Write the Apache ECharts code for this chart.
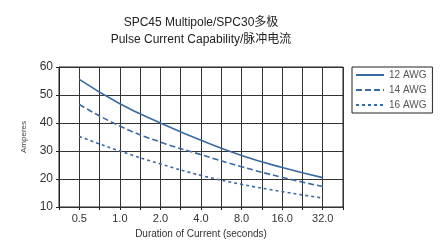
<!DOCTYPE html>
<html>
<head>
<meta charset="utf-8">
<script src="https://cdn.jsdelivr.net/npm/echarts@6/dist/echarts.min.js"></script>
<style>
  html, body { margin: 0; padding: 0; background: #fff; }
  #main { width: 441px; height: 244px; }
</style>
</head>
<body>
<div id="main"></div>
<script>
// durations (seconds) shown under the x axis
var durations = ['0.5', '1.0', '2.0', '4.0', '8.0', '16.0', '32.0'];
var awg12 = [55.6, 46.9, 40.0, 33.8, 28.4, 24.1, 20.5];
var awg14 = [46.6, 38.9, 33.2, 28.7, 24.4, 20.6, 17.3];
var awg16 = [35.2, 30.0, 25.4, 21.3, 18.1, 15.5, 13.2];

function pts(arr) {
	var out = [];
	for (var i = 0; i < arr.length; i++) {
		out.push([i + 0.5, arr[i]]);
	}
	return out;
}

var lineColor = '#3a6aa3';
var myChart = echarts.init(document.getElementById('main'));

var option = {
	animation: false,
	textStyle: { fontFamily: 'Liberation Sans, Arial, sans-serif' },
	title: {
		text: 'SPC45 Multipole/SPC30多极\nPulse Current Capability/脉冲电流',
		left: 196,
		textAlign: 'center',
		top: 9,
		textStyle: {
			fontSize: 12,
			fontWeight: 'normal',
			color: '#222',
			lineHeight: 17,
			fontFamily: 'Liberation Sans, Noto Sans CJK SC, sans-serif'
		}
	},
	legend: {
		orient: 'vertical',
		left: 352,
		top: 67,
		padding: [3, 6, 3, 3],
		itemWidth: 28,
		itemHeight: 8,
		itemGap: 5,
		borderColor: '#222',
		borderWidth: 1,
		itemStyle: { opacity: 0 },
		textStyle: { fontSize: 10, color: '#555' },
		data: ['12 AWG', '14 AWG', '16 AWG']
	},
	grid: {
		left: 59,
		right: 98,
		top: 67,
		bottom: 33,
		show: true,
		borderColor: '#222',
		borderWidth: 1
	},
	xAxis: {
		type: 'value',
		min: 0,
		max: 7,
		interval: 0.5,
		name: 'Duration of Current (seconds)',
		nameLocation: 'middle',
		nameGap: 22,
		nameTextStyle: { fontSize: 10, color: '#333' },
		axisLine: { show: true, lineStyle: { color: '#222' } },
		axisTick: { show: true, length: 3, lineStyle: { color: '#222' } },
		axisLabel: {
			fontSize: 11,
			color: '#333',
			margin: 6,
			formatter: function (v) {
				var i = v - 0.5;
				if (Math.abs(i - Math.round(i)) < 0.01 && durations[Math.round(i)]) {
					return durations[Math.round(i)];
				}
				return '';
			}
		},
		splitLine: { show: true, lineStyle: { color: '#333', width: 1, type: 'solid' } }
	},
	yAxis: [{
		type: 'value',
		min: 10,
		max: 60,
		interval: 10,
		name: 'Amperes',
		nameLocation: 'middle',
		nameGap: 31,
		nameTextStyle: { fontSize: 8, color: '#444' },
		axisLine: { show: true, lineStyle: { color: '#222' } },
		axisTick: { show: true, length: 3, lineStyle: { color: '#222' } },
		axisLabel: { fontSize: 12, color: '#333', margin: 6 },
		splitLine: { show: true, lineStyle: { color: '#333', width: 1, type: 'solid' } }
	}, {
		// same scale again, its inside ticks span the plot as horizontal grid lines
		type: 'value',
		min: 10,
		max: 60,
		interval: 10,
		position: 'left',
		axisLine: { show: false },
		axisLabel: { show: false },
		splitLine: { show: false },
		axisTick: { show: true, inside: true, length: 284, lineStyle: { color: '#333', width: 1 } }
	}],
	series: [{
		name: '12 AWG',
		type: 'line',
		smooth: true,
		showSymbol: false,
		lineStyle: { color: lineColor, width: 1.6 },
		itemStyle: { color: lineColor },
		data: pts(awg12)
	}, {
		name: '14 AWG',
		type: 'line',
		smooth: true,
		showSymbol: false,
		lineStyle: { color: lineColor, width: 1.6, type: [6, 3] },
		itemStyle: { color: lineColor },
		data: pts(awg14)
	}, {
		name: '16 AWG',
		type: 'line',
		smooth: true,
		showSymbol: false,
		lineStyle: { color: lineColor, width: 1.6, type: [3, 3] },
		itemStyle: { color: lineColor },
		data: pts(awg16)
	}]
};

myChart.setOption(option);
</script>
</body>
</html>
